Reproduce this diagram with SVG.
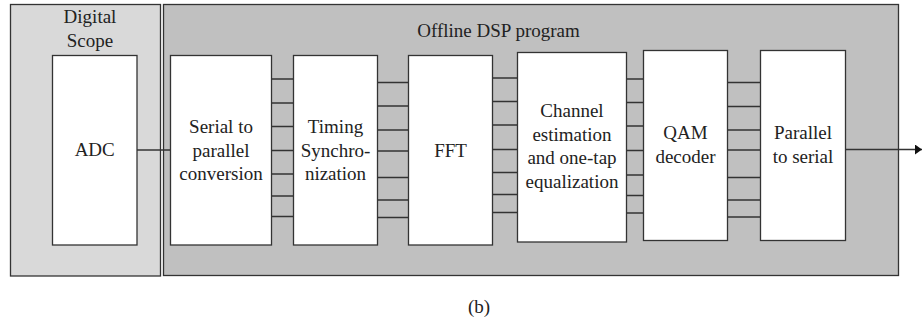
<svg xmlns="http://www.w3.org/2000/svg" width="922" height="322" viewBox="0 0 922 322">
<style>
  .frame { stroke: #333; stroke-width: 1.3; }
  .box { fill: #fff; stroke: #333; stroke-width: 1.3; }
  .wire { stroke: #333; stroke-width: 1.3; fill: none; }
  text { font-family: "Liberation Serif", "DejaVu Serif", serif; font-size: 19px; fill: #222; text-anchor: middle; }
</style>
<defs>
  <marker id="arrow" markerUnits="userSpaceOnUse" markerWidth="8" markerHeight="11" refX="7" refY="5" orient="auto">
    <path d="M0,0 L7,5 L0,10 Z" fill="#111"/>
  </marker>
</defs>

<g id="scope">
  <rect class="frame" x="10.5" y="4.5" width="150" height="271.5" fill="#d9d9d9"/>
  <text x="90" y="22.5">Digital</text>
  <text x="90" y="46.5">Scope</text>
</g>
<g id="dsp">
  <rect class="frame" x="163.5" y="4.5" width="735" height="271" fill="#c0c0c0"/>
  <text x="498.5" y="36.5">Offline DSP program</text>
</g>

<g id="connectors">
  <line class="wire" x1="137" y1="150" x2="170.5" y2="150"/>
  <path class="wire" d="M271.5,79H293.5M271.5,103H293.5M271.5,126.5H293.5M271.5,150.5H293.5M271.5,174H293.5M271.5,196H293.5M271.5,216.5H293.5"/>
  <path class="wire" d="M377.5,82.5H408.5M377.5,106H408.5M377.5,130H408.5M377.5,151H408.5M377.5,177.5H408.5M377.5,200H408.5M377.5,217.5H408.5"/>
  <path class="wire" d="M492.5,78H517.5M492.5,101.5H517.5M492.5,125H517.5M492.5,149.5H517.5M492.5,172.5H517.5M492.5,194.5H517.5M492.5,212.5H517.5"/>
  <path class="wire" d="M626.5,79H643.5M626.5,102.5H643.5M626.5,126H643.5M626.5,150.5H643.5M626.5,175H643.5M626.5,195.5H643.5M626.5,213H643.5"/>
  <path class="wire" d="M727.5,82.5H760.5M727.5,106.5H760.5M727.5,130H760.5M727.5,150H760.5M727.5,177.5H760.5M727.5,200H760.5M727.5,217H760.5"/>
  <line class="wire" x1="845.5" y1="149.5" x2="922" y2="149.5" marker-end="url(#arrow)"/>
</g>

<g id="adc">
  <rect class="box" x="52.5" y="55.5" width="84.5" height="189.5"/>
  <text x="94.7" y="156">ADC</text>
</g>
<g id="s2p">
  <rect class="box" x="170.5" y="55.5" width="101" height="189.5"/>
  <text x="221" y="132.5">Serial to</text>
  <text x="221" y="156.5">parallel</text>
  <text x="221" y="180">conversion</text>
</g>
<g id="timing">
  <rect class="box" x="293.5" y="55.5" width="84" height="189.5"/>
  <text x="335.5" y="132.5">Timing</text>
  <text x="335.5" y="156.5">Synchro-</text>
  <text x="335.5" y="180">nization</text>
</g>
<g id="fft">
  <rect class="box" x="408.5" y="55.5" width="84" height="189.5"/>
  <text x="450.5" y="156.5">FFT</text>
</g>
<g id="channel">
  <rect class="box" x="517.5" y="52.5" width="109" height="189.5"/>
  <text x="572" y="117">Channel</text>
  <text x="572" y="140.5">estimation</text>
  <text x="572" y="164">and one-tap</text>
  <text x="572" y="188">equalization</text>
</g>
<g id="qam">
  <rect class="box" x="643.5" y="50.5" width="84" height="190"/>
  <text x="685.5" y="139">QAM</text>
  <text x="685.5" y="163">decoder</text>
</g>
<g id="p2s">
  <rect class="box" x="760.5" y="50.5" width="85" height="190"/>
  <text x="803" y="139">Parallel</text>
  <text x="803" y="163">to serial</text>
</g>

<text x="479" y="313">(b)</text>
</svg>
